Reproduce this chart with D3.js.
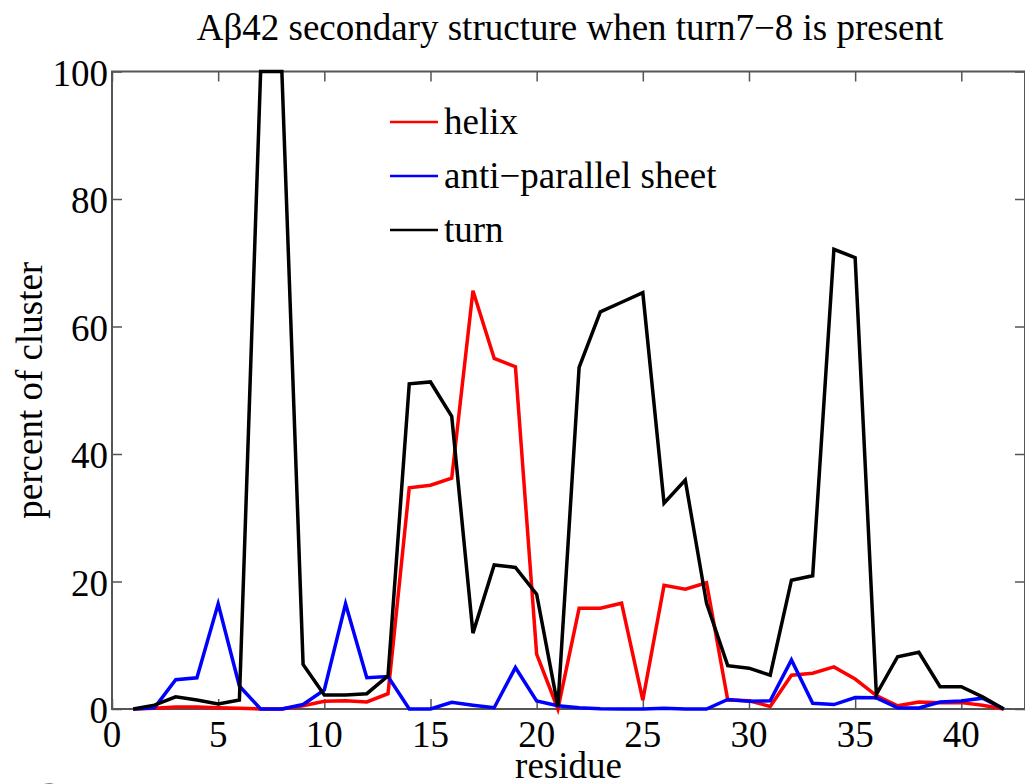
<!DOCTYPE html>
<html>
<head>
<meta charset="utf-8">
<script src="https://d3js.org/d3.v7.min.js"></script>
<style>
  body { margin: 0; background: #fff; }
  svg { display: block; }
  text { font-family: 'Liberation Serif', 'Times New Roman', serif; fill: #000; }
</style>
</head>
<body>
<svg id="chart" width="1025" height="784"></svg>
<script>
// residue numbers along the peptide
const residues = [1, 2, 3, 4, 5, 6, 7, 8, 9, 10, 11, 12, 13, 14, 15, 16, 17, 18, 19, 20, 21,
  22, 23, 24, 25, 26, 27, 28, 29, 30, 31, 32, 33, 34, 35, 36, 37, 38, 39, 40, 41, 42]

// percent of cluster
const helix = [0, 0.1, 0.3, 0.3, 0.2, 0.1, 0, 0, 0.5, 1.2, 1.3, 1.1, 2.4, 34.7, 35.1, 36.2, 65.6, 55.0, 53.7, 8.6, 0,
  15.8, 15.8, 16.6, 1.4, 19.4, 18.8, 19.8, 1.4, 1.3, 0.4, 5.3, 5.6, 6.6, 4.7, 2.1, 0.5, 1.1, 1.0, 1.0, 0.6, 0]
const sheet = [0, 0.2, 4.6, 4.9, 16.5, 3.6, 0, 0, 0.7, 3.0, 16.5, 4.9, 5.1, 0, 0, 1.05, 0.6, 0.2, 6.5, 1.25, 0.5,
  0.2, 0.05, 0, 0, 0.1, 0, 0, 1.5, 1.2, 1.3, 7.7, 0.9, 0.7, 1.8, 1.75, 0.2, 0.15, 1.1, 1.25, 1.7, 0]
const turn = [0, 0.6, 1.9, 1.4, 0.8, 1.4, 100, 100, 7.0, 2.2, 2.2, 2.4, 5.2, 51.0, 51.3, 45.9, 11.9, 22.6, 22.2, 18.0, 0.4,
  53.6, 62.3, 63.8, 65.3, 32.3, 35.9, 16.6, 6.8, 6.4, 5.3, 20.2, 20.9, 72.1, 70.8, 2.3, 8.2, 8.9, 3.5, 3.5, 1.9, 0]

const seriesNames = ['helix', 'anti\u2212parallel sheet', 'turn']
const seriesColors = ['#ff0000', '#0000ff', '#000000']
const xTicks = [0, 5, 10, 15, 20, 25, 30, 35, 40]
const yTicks = [0, 20, 40, 60, 80, 100]

const svg = d3.select('#chart')

const margin = { top: 71.5, right: 0, bottom: 75, left: 112 }
const width = 1025 - margin.left - margin.right
const height = 784 - margin.top - margin.bottom

const x = d3.scaleLinear().domain([0, 43]).range([0, width])
const y = d3.scaleLinear().domain([0, 100]).range([height, 0])

const g = svg.append('g').attr('transform', `translate(${margin.left},${margin.top})`)

const axisColor = '#555'
const fs = 37

// axes with inward ticks on all four sides
const styleAxis = sel => {
  sel.select('.domain').remove()
  sel.selectAll('line').attr('stroke', axisColor).attr('stroke-width', 1.5)
}

g.append('g')
  .attr('transform', `translate(0,${height})`)
  .call(d3.axisBottom(x).tickValues(xTicks).tickSize(-10).tickFormat(''))
  .call(styleAxis)
g.append('g')
  .call(d3.axisTop(x).tickValues(xTicks).tickSize(-10).tickFormat(''))
  .call(styleAxis)
g.append('g')
  .call(d3.axisLeft(y).tickValues(yTicks).tickSize(-10).tickFormat(''))
  .call(styleAxis)
g.append('g')
  .attr('transform', `translate(${width},0)`)
  .call(d3.axisRight(y).tickValues(yTicks).tickSize(-10).tickFormat(''))
  .call(styleAxis)

g.append('rect')
  .attr('x', 0)
  .attr('y', 0)
  .attr('width', width)
  .attr('height', height)
  .attr('fill', 'none')
  .attr('stroke', axisColor)
  .attr('stroke-width', 2)

// tick labels
g.selectAll('.xlab')
  .data(xTicks)
  .enter()
  .append('text')
  .attr('x', d => x(d))
  .attr('y', height + 38)
  .attr('text-anchor', 'middle')
  .attr('font-size', fs)
  .text(d => d)

g.selectAll('.ylab')
  .data(yTicks)
  .enter()
  .append('text')
  .attr('x', -4)
  .attr('y', d => y(d) + 14)
  .attr('text-anchor', 'end')
  .attr('font-size', fs)
  .text(d => d)

// data lines
const line = d3.line()
  .x((d, i) => x(residues[i]))
  .y(d => y(d))

;[helix, sheet, turn].forEach((s, k) => {
  g.append('path')
    .datum(s)
    .attr('fill', 'none')
    .attr('stroke', seriesColors[k])
    .attr('stroke-width', 3.5)
    .attr('stroke-linejoin', 'miter')
    .attr('d', line)
})

// legend
const legend = svg.append('g').attr('transform', 'translate(390, 122)')
seriesNames.forEach((name, k) => {
  legend.append('line')
    .attr('x1', 0)
    .attr('x2', 48)
    .attr('y1', k * 54)
    .attr('y2', k * 54)
    .attr('stroke', seriesColors[k])
    .attr('stroke-width', 2.5)
  legend.append('text')
    .attr('x', 54)
    .attr('y', k * 54 + 12)
    .attr('font-size', fs)
    .text(name)
})

// titles
svg.append('text')
  .attr('x', 570)
  .attr('y', 40)
  .attr('text-anchor', 'middle')
  .attr('font-size', fs)
  .text('A\u03b242 secondary structure when turn7\u22128 is present')

svg.append('text')
  .attr('x', margin.left + width / 2)
  .attr('y', 778)
  .attr('text-anchor', 'middle')
  .attr('font-size', fs)
  .text('residue')

svg.append('text')
  .attr('transform', `translate(42, ${margin.top + height / 2}) rotate(-90)`)
  .attr('text-anchor', 'middle')
  .attr('font-size', fs)
  .text('percent of cluster')

// panel letter, cut off at the bottom edge
svg.append('text')
  .attr('x', 37)
  .attr('y', 805)
  .attr('font-size', 46)
  .attr('font-weight', 'bold')
  .text('a')
</script>
</body>
</html>
